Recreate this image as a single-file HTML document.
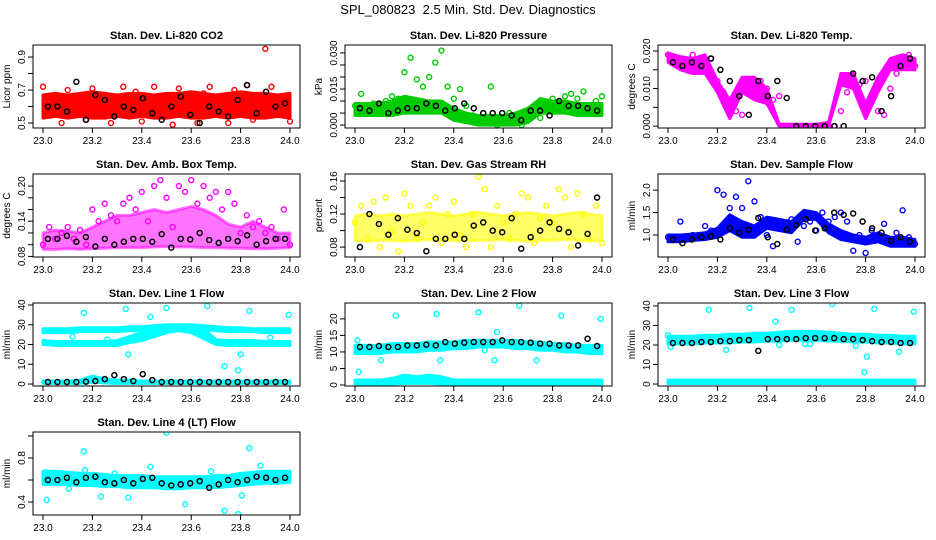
<!DOCTYPE html>
<html><head><meta charset="utf-8">
<style>
html,body{margin:0;padding:0;background:#fff;}
svg{display:block;font-family:"Liberation Sans",sans-serif;}
</style></head>
<body>
<svg id="chart" width="936" height="540" viewBox="0 0 936 540" xmlns="http://www.w3.org/2000/svg">
<rect width="936" height="540" fill="#fff"/>
<text x="468" y="14" font-size="13" text-anchor="middle">SPL_080823&#160; 2.5 Min. Std. Dev. Diagnostics</text>
</svg>
<script>
// ---- data ----
const xTicks=[23.0,23.2,23.4,23.6,23.8,24.0];
const xTickLabels=["23.0","23.2","23.4","23.6","23.8","24.0"];

const p1BandLo=[.53,.54,.53,.54,.53,.53,.54,.53,.54,.53,.53,.54,.53,.53,.54,.53,.54,.53,.53,.54,.53];
const p1BandHi=[.67,.68,.67,.68,.69,.68,.67,.68,.68,.67,.68,.68,.69,.68,.67,.68,.69,.68,.68,.67,.68];
const p1Pts=[.72,.55,.65,.5,.7,.58,.62,.52,.71,.6,.67,.5,.63,.72,.56,.69,.51,.66,.72,.55,.6,.49,.71,.57,.64,.5,.68,.72,.56,.62,.5,.7,.58,.73,.52,.66,.95,.72,.55,.61,.51];
const p1Blk=[.6,.6,.57,.75,.52,.67,.64,.54,.6,.58,.65,.56,.52,.6,.66,.55,.5,.6,.57,.54,.64,.73,.56,.69,.6,.62];

const p2BandLo=[.004,.004,.004,.004,.005,.005,.005,.005,.002,.001,0,0,0,0,.001,.005,.005,.005,.004,.004,.004];
const p2BandHi=[.009,.009,.009,.010,.012,.011,.010,.010,.007,.005,.004,.004,.004,.005,.007,.011,.010,.010,.009,.009,.009];
const p2Pts=[.008,.013,.006,.009,.007,.010,.012,.011,.022,.028,.019,.016,.020,.026,.031,.016,.011,.015,.008,.004,.002,.001,.016,0,.002,.005,.001,0,.004,.006,.003,.006,.011,.009,.012,.013,.011,.014,.008,.010,.012];
const p2Blk=[.007,.006,.009,.005,.006,.007,.007,.009,.008,.006,.007,.009,.007,.005,.005,.005,.004,.002,.006,.006,.004,.010,.008,.008,.007,.006];

const p3BandLo=[.017,.015,.014,.014,.009,.002,.009,.007,.006,0,0,0,0,0,.011,.010,.002,.009,.015,.015,.015];
const p3BandHi=[.0195,.0185,.018,.019,.012,.007,.013,.013,.010,.0005,.0005,.0005,.0005,.001,.014,.014,.006,.013,.018,.019,.018];
const p3Pts=[.019,.018,.016,.017,.019,.016,.015,.018,.012,.009,.006,.004,.003,.012,.008,.012,.01,.007,.008,0,0,0,0,0,0,0,0,0,.004,.009,.013,.011,.012,.008,.004,.003,.010,.014,.017,.019,.016];
const p3Blk=[.017,.016,.017,.016,.018,.015,.012,.008,.003,.012,.008,.012,.0075,0,0,0,0,0,0,.014,.012,.013,.004,.008,.016,.018];

const p4BandLo=[.092,.092,.093,.092,.093,.094,.095,.095,.095,.096,.097,.096,.096,.095,.095,.094,.094,.093,.093,.094,.095];
const p4BandHi=[.12,.125,.123,.12,.13,.14,.15,.15,.155,.16,.155,.16,.165,.16,.15,.135,.13,.14,.13,.12,.12];
const p4Pts=[.10,.13,.11,.12,.13,.11,.125,.10,.16,.14,.17,.15,.14,.17,.18,.16,.19,.14,.20,.21,.18,.13,.20,.19,.21,.17,.20,.18,.19,.16,.19,.17,.12,.15,.13,.14,.12,.13,.11,.16,.10];
const p4Blk=[.11,.11,.115,.105,.113,.097,.11,.1,.105,.11,.11,.105,.118,.095,.11,.109,.12,.108,.103,.11,.106,.116,.1,.106,.11,.11];

const p5BandLo=[.088,.087,.088,.088,.087,.088,.089,.088,.088,.087,.088,.088,.089,.088,.087,.088,.088,.089,.088,.087,.088];
const p5BandHi=[.118,.12,.118,.12,.118,.12,.122,.12,.118,.12,.122,.12,.118,.12,.122,.12,.118,.12,.122,.12,.118];
const p5Pts=[.11,.13,.09,.135,.08,.14,.10,.075,.145,.13,.09,.11,.13,.14,.085,.12,.135,.095,.08,.12,.165,.15,.08,.13,.11,.09,.12,.145,.14,.085,.115,.13,.11,.15,.14,.08,.145,.12,.09,.13,.085];
const p5Blk=[.08,.12,.108,.095,.115,.101,.097,.075,.09,.09,.095,.09,.106,.11,.1,.098,.115,.078,.092,.1,.11,.102,.098,.082,.096,.14];

const p6BandLo=[.85,.85,.88,.9,.95,1.1,.95,.95,1.15,1.1,1.05,1.35,1.35,1.05,.9,.85,.8,.85,.75,.75,.75];
const p6BandHi=[1.0,1.0,1.02,1.05,1.15,1.45,1.3,1.2,1.4,1.35,1.3,1.55,1.5,1.25,1.1,1.0,.95,1.05,.95,.95,.9];
const p6Pts=[.95,.9,1.3,.9,1.0,.95,1.2,1.1,2.0,1.9,1.6,1.85,1.6,2.2,1.75,1.4,1.0,.75,1.3,1.25,1.35,.85,1.2,1.3,1.1,1.5,1.3,1.4,1.5,1.3,.65,1.0,.6,1.1,.9,1.25,.8,1.05,1.55,.95,.8];
const p6Blk=[.9,.82,.9,.95,.97,.9,1.15,1.05,1.12,1.38,.95,.8,1.12,1.22,1.35,1.1,1.15,1.5,1.45,1.48,1.3,1.15,1.05,.87,.95,.85];

const p7BandULo=[26,26,26,26.5,26.5,26.5,26.5,27,27,27.5,27.5,28,28,27.5,27,26.5,26.5,26.5,26,26,26];
const p7BandUHi=[28,28,28,28.5,28.5,28.5,28.5,29,29,29.5,30,30,30,29.5,29,28.5,28.5,28,28,28,28];
const p7BandLLo=[20,19.5,19.5,19.5,19.5,19.5,19.5,21,22,24,26,27,26,23,20,19.5,19.5,19.5,19.5,19.5,19.5];
const p7BandLHi=[22,21.5,21.5,21.5,21.5,21.5,22,24,26,28,29,29,29,28,22.5,22,22,22,21.5,21.5,21.5];
const p7BandBLo=[.3,.3,.3,.3,1,.5,.3,.3,.3,.3,.3,.3,.3,.3,.3,.3,.3,.3,.3,.3,.3];
const p7BandBHi=[1.5,1.5,1.5,2,4,2.5,2,2,1.5,1.5,1.5,1.5,1.5,1.5,1.5,1.5,1.5,1.5,1.5,1.5,1.5];
const p7OutX=[23.12,23.165,23.26,23.335,23.345,23.435,23.5,23.665,23.735,23.79,23.8,23.835,23.92,23.995];
const p7OutY=[24,36,22.5,38,15,34,38.5,39.5,9,7,15,37,23.5,35];
const p7Blk=[1,1,1,1,1.2,1.5,2.5,4.5,2.5,1.5,5,2,1,1,1,1,1,1,1,1,1,1,1,1,1,1];

const p8BandLo=[9.5,9.5,9.5,10,10,10,10.5,10.5,11,11,11.5,11.5,11.5,11,11,10.5,10.5,10,10,9.5,9.5];
const p8BandHi=[12,12,12,12.5,12.5,12.5,13,13,13,13.5,13.5,13.5,13.5,13.5,13,13,12.5,12.5,12,12,12];
const p8BandBLo=[.3,.3,.3,.3,.5,.5,.5,.3,.3,.3,.3,.3,.3,.3,.3,.3,.3,.3,.3,.3,.3];
const p8BandBHi=[1.5,1.5,1.5,2,3,2.5,3,2.5,1.5,1.5,1.5,1.5,1.5,1.5,1.5,1.5,1.5,1.5,1.5,1.5,1.5];
const p8OutX=[23.01,23.015,23.105,23.165,23.33,23.345,23.5,23.525,23.565,23.575,23.665,23.735,23.835,23.995];
const p8OutY=[13.5,4,7.5,21,21.5,7.5,22,10.5,7.5,16,24,7.5,21,20];
const p8Blk=[11.5,11.5,11.8,11.5,11.5,12,12,12.2,12,13,12.5,12.8,13,13,13,13.5,13,13,12.8,12.5,12.5,12,12,12,14,11.8];

const p9BandLo=[20.5,20.5,20.5,21,21,21,21.5,21.5,22,22,22.5,22.5,22.5,22,22,21.5,21.5,21,21,20.5,20.5];
const p9BandHi=[24.5,24.5,24.5,25,25,25.5,25.5,26,26,26.5,27,27,27,26.5,26,25.5,25.5,25,25,24.5,24.5];
const p9BandBLo=[.3,.3,.3,.3,.3,.3,.3,.3,.3,.3,.3,.3,.3,.3,.3,.3,.3,.3,.3,.3,.3];
const p9BandBHi=[2,2,2,2,2,2,2,2,2,2,2,2,2,2,2,2,2,2,2,2,2];
const p9OutX=[23.0,23.01,23.165,23.235,23.33,23.435,23.45,23.5,23.555,23.575,23.665,23.76,23.795,23.805,23.835,23.935,23.995];
const p9OutY=[25,19,38,17.5,39,32,20,38,20.5,20.5,41,19.5,6,14,38.5,16.5,37];
const p9Blk=[21,21,21,21.5,21.5,22,22,22.5,22.5,17,23,23,23,23,23.5,23.5,23.5,23.5,23,23,22.5,22,21.5,21.5,21,21];

const p10BandLo=[.56,.56,.56,.55,.55,.54,.54,.53,.53,.53,.52,.52,.53,.53,.53,.54,.55,.56,.57,.57,.58];
const p10BandHi=[.68,.68,.67,.66,.66,.65,.64,.64,.64,.63,.63,.63,.63,.63,.64,.64,.66,.67,.68,.68,.68];
const p10OutX=[23.01,23.015,23.105,23.165,23.17,23.235,23.29,23.345,23.435,23.5,23.575,23.68,23.735,23.79,23.805,23.835,23.88];
const p10OutY=[.67,.42,.52,.86,.69,.45,.66,.44,.72,1.03,.38,.68,.32,.29,.46,.89,.73];
const p10Blk=[.6,.6,.62,.58,.62,.63,.58,.57,.6,.57,.61,.62,.57,.55,.56,.57,.59,.53,.56,.6,.58,.6,.63,.62,.6,.62];

const panels=[
 {name:"co2",title:"Stan. Dev. Li-820 CO2",ylab:"Licor ppm",col:0,row:0,ymin:.47,ymax:.973,ticks:[.5,.6,.7,.8,.9],labs:{"0.5":"0.5","0.7":"0.7","0.9":"0.9"},color:"#ff0000",op:1,bands:[[p1BandLo,p1BandHi]],pts:p1Pts,blk:p1Blk},
 {name:"pressure",title:"Stan. Dev. Li-820 Pressure",ylab:"kPa",col:1,row:0,ymin:-.0012,ymax:.0333,ticks:[0,.005,.01,.015,.02,.025,.03],labs:{"0":"0.000","0.015":"0.015","0.03":"0.030"},color:"#00cc00",op:1,bands:[[p2BandLo,p2BandHi]],pts:p2Pts,blk:p2Blk},
 {name:"temp",title:"Stan. Dev. Li-820 Temp.",ylab:"degrees C",col:2,row:0,ymin:-.0005,ymax:.0216,ticks:[0,.005,.01,.015,.02],labs:{"0":"0.000","0.01":"0.010","0.02":"0.020"},color:"#ff00ff",op:1,bands:[[p3BandLo,p3BandHi]],pts:p3Pts,blk:p3Blk},
 {name:"amb-box-temp",title:"Stan. Dev. Amb. Box Temp.",ylab:"degrees C",col:0,row:1,ymin:.079,ymax:.2205,ticks:[.08,.1,.12,.14,.16,.18,.2],labs:{"0.08":"0.08","0.14":"0.14","0.2":"0.20"},color:"#ff00ff",op:.55,bands:[[p4BandLo,p4BandHi]],pts:p4Pts,blk:p4Blk},
 {name:"gas-stream-rh",title:"Stan. Dev. Gas Stream RH",ylab:"percent",col:1,row:1,ymin:.068,ymax:.1685,ticks:[.08,.1,.12,.14,.16],labs:{"0.08":"0.08","0.12":"0.12","0.16":"0.16"},color:"#ffff00",op:.6,bands:[[p5BandLo,p5BandHi]],pts:p5Pts,blk:p5Blk},
 {name:"sample-flow",title:"Stan. Dev. Sample Flow",ylab:"ml/min",col:2,row:1,ymin:.51,ymax:2.36,ticks:[1,1.5,2],labs:{"1":"1.0","1.5":"1.5","2":"2.0"},color:"#0000ff",op:1,bands:[[p6BandLo,p6BandHi]],pts:p6Pts,blk:p6Blk},
 {name:"line1-flow",title:"Stan. Dev. Line 1 Flow",ylab:"ml/min",col:0,row:2,ymin:-1,ymax:41,ticks:[0,10,20,30,40],labs:{"0":"0","10":"10","20":"20","30":"30","40":"40"},color:"#00ffff",op:1,bands:[[p7BandULo,p7BandUHi],[p7BandLLo,p7BandLHi],[p7BandBLo,p7BandBHi]],outX:p7OutX,outY:p7OutY,blk:p7Blk},
 {name:"line2-flow",title:"Stan. Dev. Line 2 Flow",ylab:"ml/min",col:1,row:2,ymin:-.3,ymax:24.8,ticks:[0,5,10,15,20],labs:{"0":"0","5":"5","10":"10","15":"15","20":"20"},color:"#00ffff",op:1,bands:[[p8BandLo,p8BandHi],[p8BandBLo,p8BandBHi]],outX:p8OutX,outY:p8OutY,blk:p8Blk},
 {name:"line3-flow",title:"Stan. Dev. Line 3 Flow",ylab:"ml/min",col:2,row:2,ymin:-1,ymax:41.5,ticks:[0,10,20,30,40],labs:{"0":"0","10":"10","20":"20","30":"30","40":"40"},color:"#00ffff",op:1,bands:[[p9BandLo,p9BandHi],[p9BandBLo,p9BandBHi]],outX:p9OutX,outY:p9OutY,blk:p9Blk},
 {name:"line4-flow",title:"Stan. Dev. Line 4 (LT) Flow",ylab:"ml/min",col:0,row:3,ymin:.282,ymax:1.036,ticks:[.4,.6,.8,1.0],labs:{"0.4":"0.4","0.8":"0.8"},color:"#00ffff",op:1,bands:[[p10BandLo,p10BandHi]],outX:p10OutX,outY:p10OutY,blk:p10Blk}
];

const NS="http://www.w3.org/2000/svg";
const svg=document.getElementById('chart');
function mk(tag,attrs,parent){const e=document.createElementNS(NS,tag);for(const k in attrs)e.setAttribute(k,attrs[k]);parent.appendChild(e);return e;}

const colLeft=[33,345,658], rowTop=[45,174,303,432], W=267, H=83;
panels.forEach(p=>{
  const L=colLeft[p.col], T=rowTop[p.row], B=T+H, R=L+W;
  const xs=v=>L+10+(v-23)*(W-20);
  const ys=v=>B-(v-p.ymin)/(p.ymax-p.ymin)*H;
  const g=mk('g',{},svg);
  
  
  const t=mk('text',{x:(L+R)/2,y:T-6,'font-size':11,'font-weight':'bold','text-anchor':'middle'},g);
  t.textContent=p.title;
  
  
  const yl=mk('text',{x:0,y:0,'font-size':10,'text-anchor':'middle',transform:`translate(${L-23},${(T+B)/2}) rotate(-90)`},g);
  yl.textContent=p.ylab;
  
  
  const cid='clip'+p.name;
  const cp=mk('clipPath',{id:cid},g); mk('rect',{x:L,y:T,width:W,height:H},cp);
  const data=mk('g',{'clip-path':`url(#${cid})`},g);
  
  
  p.bands.forEach((bd,bi)=>{
    const lo=bd[0],hi=bd[1],n=lo.length;
    let pts=[];
    for(let i=0;i<n;i++)pts.push(xs(23+i/(n-1))+','+ys(hi[i]));
    for(let i=n-1;i>=0;i--)pts.push(xs(23+i/(n-1))+','+ys(lo[i]));
    const pg=mk('polygon',{points:pts.join(' '),fill:p.color,'fill-opacity':p.op,stroke:p.color,'stroke-opacity':p.op,'stroke-width':3,'stroke-linejoin':'round'},data);
    
    
  });
  if(p.pts){p.pts.forEach((v,i)=>{
    const c=mk('circle',{cx:xs(23+i/(p.pts.length-1)),cy:ys(v),r:2.5,fill:'none',stroke:p.color,'stroke-width':1.4},data);
    
    
  });}
  if(p.outX){p.outX.forEach((x,i)=>{
    const c=mk('circle',{cx:xs(x),cy:ys(p.outY[i]),r:2.5,fill:'none',stroke:p.color,'stroke-width':1.4},data);
    
    
  });}
  p.blk.forEach((v,i)=>{
    const c=mk('circle',{cx:xs(23.02+i*0.96/(p.blk.length-1)),cy:ys(v),r:2.5,fill:'none',stroke:'#000','stroke-width':1.5},data);
    
    
  });
  const box=mk('rect',{x:L,y:T,width:W,height:H,fill:'none',stroke:'#000','stroke-width':1},g);
  
  
  xTicks.forEach((v,i)=>{
    mk('line',{x1:xs(v),x2:xs(v),y1:B,y2:B+5,stroke:'#000'},g);
    const tl=mk('text',{x:xs(v),y:B+16,'font-size':10,'text-anchor':'middle'},g);
    tl.textContent=xTickLabels[i];
    
    
  });
  p.ticks.forEach(v=>{
    mk('line',{x1:L-5,x2:L,y1:ys(v),y2:ys(v),stroke:'#000'},g);
    const key=String(+v.toFixed(4));
    if(p.labs[key]!==undefined){
      const tl=mk('text',{x:0,y:0,'font-size':10,'text-anchor':'middle',transform:`translate(${L-8},${ys(v)}) rotate(-90)`},g);
      tl.textContent=p.labs[key];
      
      
    }
  });
});
</script>
</body></html>
